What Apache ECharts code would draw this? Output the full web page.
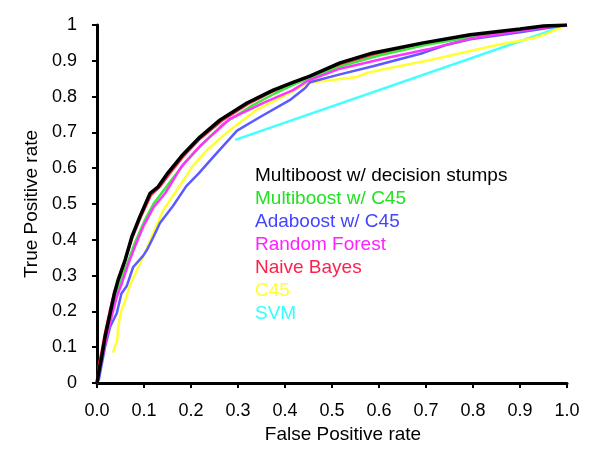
<!DOCTYPE html>
<html>
<head>
<meta charset="utf-8">
<script src="https://cdn.jsdelivr.net/npm/echarts@6/dist/echarts.min.js"></script>
<style>
  html, body { margin: 0; padding: 0; background: #fff; }
  #chart { width: 600px; height: 467px; }
</style>
</head>
<body>
<div id="chart"></div>
<script>
// tick labels
var xTickLabels = ['0.0', '0.1', '0.2', '0.3', '0.4', '0.5', '0.6', '0.7', '0.8', '0.9', '1.0'];
var yTickLabels = ['0', '0.1', '0.2', '0.3', '0.4', '0.5', '0.6', '0.7', '0.8', '0.9', '1'];

// ROC curves, [false positive rate, true positive rate]
var stumpsData = [[0,0],[0.005,0.04],[0.01,0.073],[0.017,0.128],[0.028,0.195],[0.037,0.25],[0.045,0.288],[0.06,0.344],
    [0.074,0.408],[0.091,0.464],[0.113,0.53],[0.13,0.548],[0.151,0.587],[0.18,0.634],[0.219,0.687],[0.262,0.735],
    [0.319,0.782],[0.375,0.818],[0.417,0.84],[0.453,0.857],[0.517,0.894],[0.587,0.922],[0.694,0.95],[0.794,0.973],
    [0.9,0.989],[0.95,0.997],[1,1]];
var multiC45Data = [[0,0],[0.005,0.04],[0.01,0.075],[0.018,0.125],[0.03,0.19],[0.04,0.245],[0.05,0.285],[0.065,0.335],
    [0.08,0.39],[0.1,0.45],[0.12,0.5],[0.14,0.535],[0.16,0.57],[0.19,0.62],[0.23,0.675],[0.27,0.725],[0.33,0.775],
    [0.38,0.81],[0.42,0.835],[0.46,0.855],[0.52,0.885],[0.6,0.915],[0.7,0.945],[0.8,0.967],[0.9,0.985],[0.95,0.995],[1,1]];
var adaC45Data = [[0,0],[0.004,0.01],[0.017,0.1],[0.028,0.157],[0.042,0.195],[0.052,0.25],[0.063,0.27],[0.077,0.324],
    [0.098,0.355],[0.106,0.371],[0.12,0.408],[0.134,0.447],[0.162,0.495],[0.19,0.55],[0.216,0.585],[0.247,0.631],
    [0.298,0.705],[0.347,0.743],[0.41,0.79],[0.443,0.824],[0.453,0.84],[0.517,0.862],[0.587,0.885],[0.694,0.922],
    [0.745,0.945],[0.794,0.96],[0.9,0.98],[1,1]];
var forestData = [[0,0],[0.005,0.04],[0.012,0.075],[0.02,0.125],[0.032,0.19],[0.042,0.24],[0.052,0.275],[0.066,0.33],
    [0.082,0.385],[0.098,0.436],[0.12,0.49],[0.145,0.53],[0.18,0.605],[0.22,0.663],[0.283,0.738],[0.353,0.782],
    [0.417,0.818],[0.447,0.843],[0.517,0.878],[0.623,0.91],[0.704,0.932],[0.794,0.962],[0.9,0.983],[0.95,0.993],[1,1]];
var bayesData = [[0,0],[0.004,0.05],[0.01,0.09],[0.017,0.14],[0.027,0.2],[0.036,0.25],[0.046,0.29],[0.06,0.345],
    [0.075,0.405],[0.092,0.46],[0.115,0.525],[0.135,0.55],[0.155,0.585],[0.185,0.635],[0.22,0.683],[0.265,0.732],
    [0.32,0.778],[0.375,0.815],[0.417,0.838],[0.46,0.855],[0.52,0.89],[0.59,0.918],[0.69,0.945],[0.79,0.968],[0.9,0.986],[1,1]];
var c45Data = [[0.034,0.085],[0.043,0.12],[0.045,0.157],[0.052,0.204],[0.06,0.23],[0.068,0.265],[0.074,0.285],
    [0.098,0.352],[0.12,0.419],[0.141,0.483],[0.17,0.539],[0.202,0.603],[0.234,0.651],[0.283,0.707],[0.34,0.763],
    [0.41,0.81],[0.447,0.838],[0.553,0.855],[0.574,0.866],[0.623,0.88],[0.709,0.902],[0.851,0.944],[0.928,0.963],
    [0.957,0.976],[1,1]];
var svmData = [[0.294,0.679],[1,1]];

var FONT = 'Liberation Sans';

// 曲线配置：name, data, color, width
var curves = [
    { name: 'SVM', data: svmData, color: '#44ffff', width: 2.5 },
    { name: 'C45', data: c45Data, color: '#ffff33', width: 2.5 },
    { name: 'Adaboost w/ C45', data: adaC45Data, color: '#5a5aff', width: 2.5 },
    { name: 'Naive Bayes', data: bayesData, color: '#ff2a4a', width: 2.5 },
    { name: 'Multiboost w/ C45', data: multiC45Data, color: '#3cea3c', width: 2.5 },
    { name: 'Random Forest', data: forestData, color: '#ff33ff', width: 2.5 },
    { name: 'Multiboost w/ decision stumps', data: stumpsData, color: '#000000', width: 3.5 }
];

// 图例顺序与文字颜色
var legendNames = ['Multiboost w/ decision stumps', 'Multiboost w/ C45', 'Adaboost w/ C45', 'Random Forest', 'Naive Bayes', 'C45', 'SVM'];
var legendColors = ['#000000', '#22e022', '#4444ff', '#ff22ff', '#ff1f4b', '#ffff33', '#33ffff'];

var series = [];
for (var i = 0; i < curves.length; i++) {
    series.push({
        name: curves[i].name,
        type: 'line',
        data: curves[i].data,
        symbol: 'none',
        animation: false,
        z: 2 + i,
        lineStyle: { color: curves[i].color, width: curves[i].width },
        itemStyle: { color: curves[i].color }
    });
}

var legendData = [];
for (var j = 0; j < legendNames.length; j++) {
    legendData.push({ name: legendNames[j], textStyle: { color: legendColors[j] } });
}

var chart = echarts.init(document.getElementById('chart'));
chart.setOption({
    backgroundColor: '#ffffff',
    animation: false,
    grid: { left: 97, right: 33, top: 25, bottom: 84, containLabel: false },
    legend: {
        data: legendData,
        orient: 'vertical',
        left: 244,
        top: 159,
        itemWidth: 0,
        itemHeight: 0,
        itemGap: 0,
        selectedMode: false,
        textStyle: { fontFamily: FONT, fontSize: 19, lineHeight: 23 }
    },
    xAxis: {
        type: 'value',
        min: 0,
        max: 1,
        interval: 0.1,
        offset: 10,
        name: 'False Positive rate',
        nameLocation: 'middle',
        nameGap: 30,
        nameTextStyle: { fontFamily: FONT, fontSize: 19, color: '#000', padding: [0, 0, 0, 22] },
        axisLine: { lineStyle: { color: '#000', width: 3 } },
        axisTick: { length: 5, lineStyle: { color: '#000', width: 2 } },
        axisLabel: {
            margin: 9,
            fontFamily: FONT,
            fontSize: 18,
            color: '#000',
            formatter: function (v, idx) { return xTickLabels[idx]; }
        },
        splitLine: { show: false }
    },
    yAxis: {
        type: 'value',
        min: 0,
        max: 1,
        interval: 0.1,
        offset: 9,
        name: 'True Positive rate',
        nameLocation: 'middle',
        nameGap: 37,
        nameTextStyle: { fontFamily: FONT, fontSize: 19, color: '#000' },
        axisLine: { show: true, lineStyle: { color: '#000', width: 3 } },
        axisTick: { show: true, length: 5, lineStyle: { color: '#000', width: 2 } },
        axisLabel: {
            margin: 11,
            fontFamily: FONT,
            fontSize: 18,
            color: '#000',
            formatter: function (v, idx) { return yTickLabels[idx]; }
        },
        splitLine: { show: false }
    },
    series: series
});
</script>
</body>
</html>
